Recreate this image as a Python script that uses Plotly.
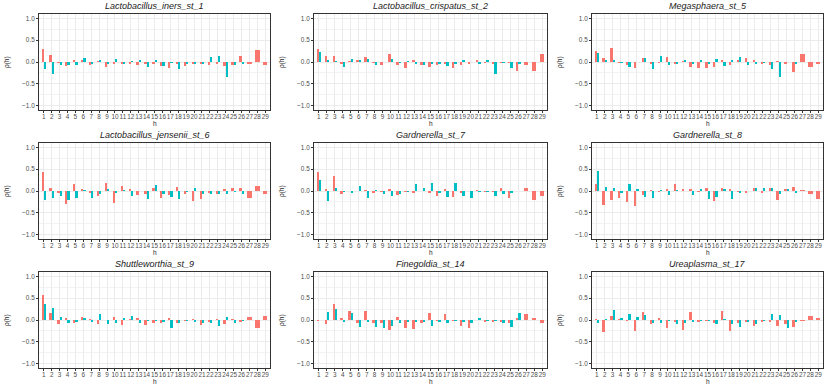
import plotly.graph_objects as go

# lags
h = list(range(1, 30))

titles = ["Lactobacillus_iners_st_1", "Lactobacillus_crispatus_st_2", "Megasphaera_st_5",
          "Lactobacillus_jensenii_st_6", "Gardnerella_st_7", "Gardnerella_st_8",
          "Shuttleworthia_st_9", "Finegoldia_st_14", "Ureaplasma_st_17"]

# red series (lags 1..29)
iners_red = [0.30, 0.17, -0.01, -0.10, 0.03, 0.04, -0.06, 0.02, -0.12, -0.03, -0.05, -0.04, -0.06, -0.05, -0.04,
             -0.09, -0.13, -0.04, -0.10, -0.05, -0.05, -0.08, -0.03, -0.10, -0.06, 0.14, -0.04, 0.27, -0.07]
crispatus_red = [0.29, 0.13, 0.13, -0.03, 0.01, 0.05, 0.11, -0.02, -0.06, 0.18, -0.07, -0.14, 0.05, -0.06, -0.12,
                 -0.06, -0.05, -0.14, -0.08, -0.03, 0.05, -0.01, -0.03, -0.01, -0.02, -0.21, -0.07, -0.21, 0.19]
megasphaera_red = [0.26, 0.09, 0.31, -0.02, -0.07, -0.13, 0.09, -0.05, -0.02, 0.12, -0.03, 0.01, -0.11, -0.14, -0.13,
                   -0.11, 0.05, -0.08, 0.03, 0.09, 0.05, -0.03, -0.06, 0.02, -0.05, -0.22, 0.18, -0.12, -0.04]
jensenii_red = [0.43, 0.06, -0.05, -0.30, 0.15, 0.03, -0.05, -0.11, 0.18, -0.28, 0.11, 0.03, -0.10, -0.06, 0.06,
                -0.15, -0.10, 0.09, -0.08, -0.24, -0.19, -0.03, -0.07, 0.04, 0.08, 0.06, -0.16, 0.12, -0.06]
gard7_red = [0.44, 0.05, 0.34, -0.06, 0.00, 0.00, 0.02, -0.05, -0.02, 0.05, -0.10, -0.02, -0.04, 0.00, -0.04,
             -0.11, 0.04, -0.14, -0.03, 0.00, 0.02, -0.02, -0.02, 0.08, -0.16, 0.00, 0.06, -0.21, -0.12]
gard8_red = [0.17, -0.31, -0.20, -0.15, -0.25, -0.35, -0.10, 0.02, -0.01, 0.05, 0.15, 0.04, 0.05, -0.02, 0.06,
             -0.23, 0.06, 0.03, -0.02, -0.04, 0.06, -0.03, 0.07, -0.21, 0.05, 0.10, 0.01, -0.07, -0.18]
shuttle_red = [0.57, 0.17, -0.10, 0.03, -0.08, 0.07, 0.01, -0.10, 0.00, 0.07, -0.11, 0.01, 0.05, -0.11, -0.06,
               -0.06, 0.05, -0.07, -0.02, 0.02, -0.11, -0.04, 0.02, -0.10, 0.02, -0.03, 0.07, -0.19, 0.10]
fine_red = [-0.01, -0.10, 0.36, 0.03, 0.20, -0.08, 0.21, -0.07, -0.07, -0.24, 0.07, -0.18, -0.20, -0.08, 0.16,
            -0.02, 0.14, -0.01, -0.13, -0.19, 0.00, -0.04, -0.03, -0.03, -0.07, 0.03, 0.13, 0.04, -0.08]
urea_red = [0.02, -0.28, 0.09, 0.02, -0.01, -0.26, 0.18, -0.10, 0.03, -0.18, -0.04, -0.22, 0.19, -0.05, -0.01,
            -0.06, 0.20, -0.25, -0.07, -0.04, -0.13, -0.04, -0.04, -0.13, -0.09, -0.17, -0.02, 0.10, 0.03]

# teal series (lags 1..26)
iners_teal = [-0.15, -0.28, -0.07, -0.07, -0.07, 0.09, -0.03, 0.03, -0.04, 0.08, -0.03, 0.01, 0.03, -0.12, 0.04,
              -0.10, -0.01, -0.16, -0.04, -0.05, -0.05, 0.11, 0.14, -0.34, -0.07, -0.03]
crispatus_teal = [0.24, 0.04, 0.01, -0.12, 0.06, 0.05, 0.08, -0.06, 0.00, 0.07, -0.02, 0.02, -0.05, -0.06, -0.04,
                  -0.05, -0.09, -0.05, 0.05, 0.00, -0.04, 0.04, -0.28, -0.02, -0.13, -0.04]
megasphaera_teal = [0.20, 0.04, 0.03, -0.02, -0.12, 0.00, 0.10, -0.15, 0.14, -0.07, -0.03, 0.04, -0.05, 0.04, -0.04,
                    0.06, -0.10, 0.05, 0.12, -0.08, -0.03, -0.01, -0.15, -0.35, 0.00, -0.03]
jensenii_teal = [-0.21, -0.16, -0.12, -0.21, -0.16, 0.01, -0.15, -0.06, 0.05, -0.04, 0.01, -0.12, 0.00, -0.18, 0.13,
                 -0.06, -0.14, -0.19, -0.01, 0.06, -0.07, -0.08, -0.06, -0.08, -0.02, -0.07]
gard7_teal = [0.25, -0.23, 0.07, -0.01, -0.05, 0.11, -0.17, 0.02, -0.08, -0.12, -0.07, -0.02, 0.17, 0.07, 0.18,
              -0.05, -0.13, 0.19, -0.12, -0.16, -0.02, -0.02, -0.12, -0.06, -0.03, 0.00]
gard8_teal = [0.46, 0.10, 0.08, -0.05, 0.17, 0.05, -0.14, -0.15, 0.02, -0.10, 0.02, 0.00, -0.10, 0.05, -0.19,
              -0.14, 0.05, -0.19, -0.03, 0.00, 0.06, 0.06, 0.08, -0.08, 0.03, -0.04]
shuttle_teal = [0.37, 0.28, 0.08, -0.08, -0.03, 0.03, -0.05, 0.13, -0.10, -0.08, 0.04, 0.10, -0.08, -0.01, -0.01,
                -0.04, -0.18, -0.07, -0.02, -0.04, -0.07, -0.08, -0.13, 0.08, -0.08, -0.01]
fine_teal = [0.00, 0.19, 0.25, -0.04, 0.17, -0.16, -0.05, -0.15, -0.18, -0.14, -0.07, -0.04, -0.05, -0.03, -0.14,
             -0.05, -0.07, -0.02, -0.04, -0.06, 0.05, -0.02, -0.01, -0.08, -0.15, 0.16]
urea_teal = [-0.08, 0.02, 0.23, 0.04, 0.13, 0.07, 0.12, -0.07, -0.06, -0.01, -0.10, -0.06, -0.04, -0.02, -0.01,
             -0.10, 0.01, -0.09, -0.16, -0.05, -0.10, -0.01, 0.13, 0.11, -0.19, -0.04]

red_series = [iners_red, crispatus_red, megasphaera_red, jensenii_red, gard7_red, gard8_red,
              shuttle_red, fine_red, urea_red]
teal_series = [iners_teal, crispatus_teal, megasphaera_teal, jensenii_teal, gard7_teal, gard8_teal,
               shuttle_teal, fine_teal, urea_teal]

RED = "#F8766D"
TEAL = "#00BFC4"
W, H = 830, 388
# panel boxes in pixels
col_px = [(39, 270), (314, 547), (592, 823)]
row_px = [(14, 110), (143, 239), (272, 368)]
bw = 0.28  # width of one dodged bar


def px(x):
    return x / W


def py(y):
    return 1 - y / H


fig = go.Figure()
annotations = []
font_fam = "Liberation Sans, Arial, sans-serif"
tick_font = dict(size=6.4, color="#4D4D4D", family=font_fam)

for i in range(9):
    r, c = divmod(i, 3)
    ax = "" if i == 0 else str(i + 1)
    red = red_series[i]
    teal = teal_series[i]
    n_teal = len(teal)
    # a lag without a teal bar gets a full-width red bar (dodge behaviour)
    red_w = [bw if k < n_teal else 2 * bw for k in range(len(red))]
    fig.add_trace(go.Bar(x=h[:len(red)], y=red, width=red_w, offset=-bw,
                         marker=dict(color=RED, line=dict(width=0)), showlegend=False,
                         hoverinfo="skip", xaxis="x" + ax, yaxis="y" + ax))
    fig.add_trace(go.Bar(x=h[:n_teal], y=teal, width=bw, offset=0,
                         marker=dict(color=TEAL, line=dict(width=0)), showlegend=False,
                         hoverinfo="skip", xaxis="x" + ax, yaxis="y" + ax))

    x0, x1 = col_px[c]
    y0, y1 = row_px[r]
    fig.layout["xaxis" + ax] = dict(
        domain=[px(x0), px(x1)], anchor="y" + ax, range=[0.4, 29.6],
        tickvals=h, ticktext=[str(v) for v in h], tickangle=0,
        showgrid=True, gridcolor="#EBEBEB", gridwidth=1, zeroline=False,
        showline=True, mirror=True, linecolor="#333333", linewidth=1,
        ticks="outside", ticklen=2, tickcolor="#333333", tickwidth=0.8,
        ticklabelstandoff=-2,
        tickfont=tick_font, fixedrange=True, automargin=False)
    fig.layout["yaxis" + ax] = dict(
        domain=[py(y1), py(y0)], anchor="x" + ax, range=[-1.1, 1.1],
        tickvals=[-1, -0.5, 0, 0.5, 1], tickformat=".1f",
        showgrid=True, gridcolor="#EBEBEB", gridwidth=1, zeroline=False,
        minor=dict(tickvals=[-0.75, -0.25, 0.25, 0.75], showgrid=True, gridcolor="#F3F3F3",
                   gridwidth=0.6, ticks=""),
        showline=True, mirror=True, linecolor="#333333", linewidth=1,
        ticks="outside", ticklen=2, tickcolor="#333333", tickwidth=0.8,
        tickfont=tick_font, fixedrange=True, automargin=False)

    annotations.append(dict(text="<i>" + titles[i] + "</i>", x=px((x0 + x1) / 2), y=py(y0 - 8),
                            xref="paper", yref="paper", showarrow=False, xanchor="center", yanchor="middle",
                            font=dict(size=9, color="#1A1A1A", family=font_fam)))
    annotations.append(dict(text="h", x=px((x0 + x1) / 2), y=py(y1 + 13),
                            xref="paper", yref="paper", showarrow=False, xanchor="center", yanchor="middle",
                            font=dict(size=6.5, color="#1A1A1A", family=font_fam)))
    annotations.append(dict(text="ρ(h)", x=px(x0 - 32), y=py((y0 + y1) / 2),
                            xref="paper", yref="paper", showarrow=False, xanchor="center", yanchor="middle",
                            textangle=-90, font=dict(size=6.5, color="#1A1A1A", family=font_fam)))

fig.update_layout(
    width=W, height=H, margin=dict(l=0, r=0, t=0, b=0),
    barmode="overlay", bargap=0,
    plot_bgcolor="white", paper_bgcolor="white",
    annotations=annotations, showlegend=False, hovermode=False,
    font=dict(family=font_fam, color="#1A1A1A"),
)

# drop the page's default body margin so the figure sits at the window's corner
fig.write_html("out.html", config={"displayModeBar": False},
               post_script="document.body.style.margin='0';")
